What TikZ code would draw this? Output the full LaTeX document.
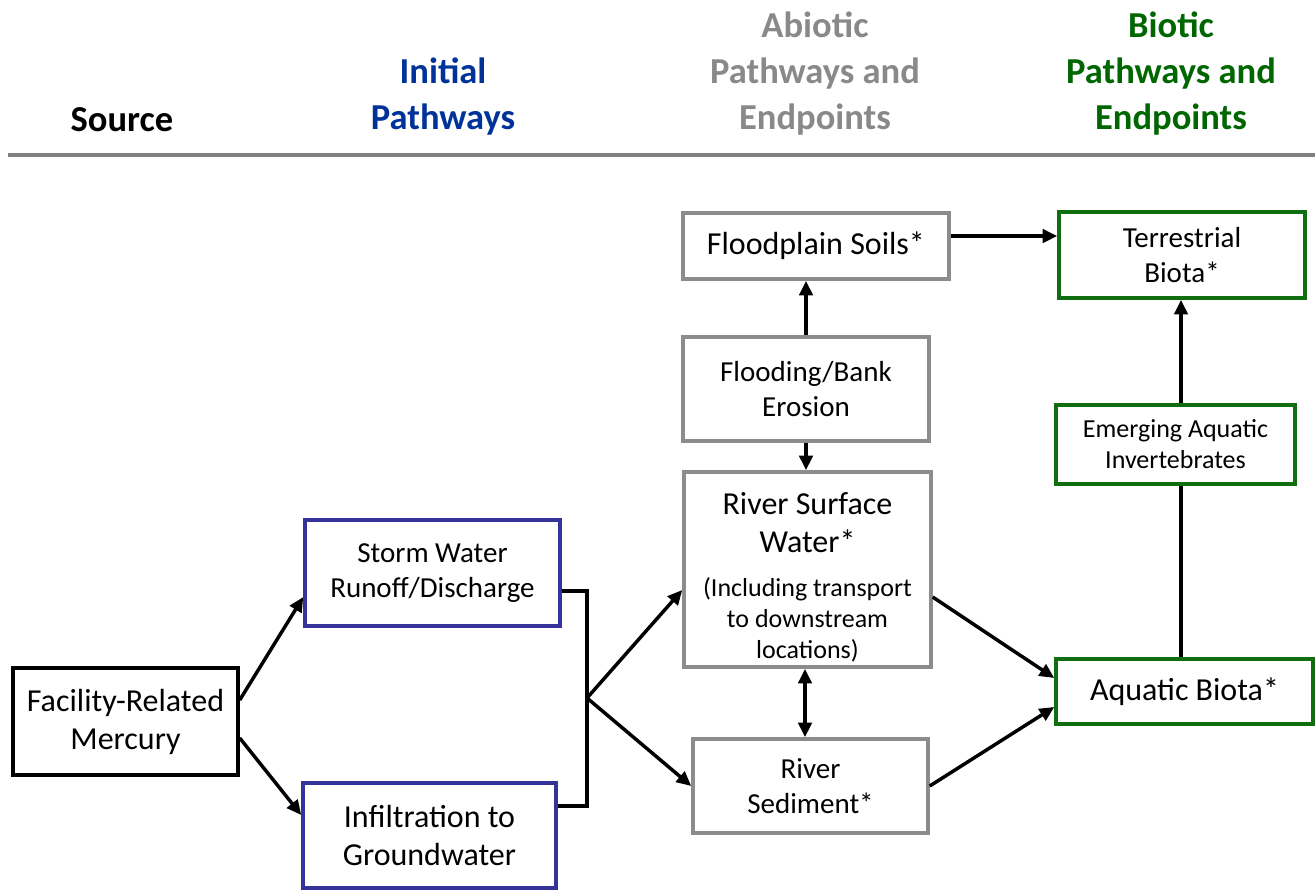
\documentclass[tikz,border=0pt]{standalone}
\usepackage{fontspec}
\setmainfont{Carlito}
\usetikzlibrary{arrows.meta,calc}
\definecolor{hdrblue}{RGB}{0,51,153}
\definecolor{hdrgray}{RGB}{137,137,137}
\definecolor{hdrgreen}{RGB}{0,102,0}
\definecolor{boxblue}{RGB}{51,51,153}
\definecolor{boxgray}{RGB}{140,140,140}
\definecolor{boxgreen}{RGB}{16,110,16}
\definecolor{rulegray}{RGB}{128,128,128}
\tikzset{
  box/.style={draw, line width=2.6pt, fill=white, inner sep=0pt, align=center},
  srcbox/.style={box, draw=black},
  initbox/.style={box, draw=boxblue},
  abiobox/.style={box, draw=boxgray},
  biobox/.style={box, draw=boxgreen},
  bigtxt/.style={font=\fontsize{24}{28.5}\selectfont},
  midtxt/.style={font=\fontsize{21.75}{26.25}\selectfont},
  smalltxt/.style={font=\fontsize{19.5}{23.25}\selectfont},
  hdr/.style={font=\bfseries\fontsize{27.4}{34.5}\selectfont, anchor=base, inner sep=0pt},
  arr/.style={line width=2.6pt, -{Triangle[length=11pt,width=10pt]}},
  dblarr/.style={line width=2.6pt, {Triangle[length=11pt,width=10pt]}-{Triangle[length=11pt,width=10pt]}},
  conn/.style={line width=2.6pt},
}
\begin{document}
\begin{tikzpicture}[x=0.75pt,y=-0.75pt]
\useasboundingbox (0,0) rectangle (1315,890);

% headers
\node[hdr] (hsrc) at (122,131) {Source};
\node[hdr, text=hdrblue] (hinit1) at (443,83) {Initial};
\node[hdr, text=hdrblue] (hinit2) at (443,129) {Pathways};
\node[hdr, text=hdrgray] (habio1) at (815,37) {Abiotic};
\node[hdr, text=hdrgray] (habio2) at (815,83) {Pathways and};
\node[hdr, text=hdrgray] (habio3) at (815,129) {Endpoints};
\node[hdr, text=hdrgreen] (hbio1) at (1171,37) {Biotic};
\node[hdr, text=hdrgreen] (hbio2) at (1171,83) {Pathways and};
\node[hdr, text=hdrgreen] (hbio3) at (1171,129) {Endpoints};
\coordinate (rl) at (8,155);
\coordinate (rr) at (1315,155);
\draw[rulegray, line width=3pt] (rl) -- (rr);

% boxes
\node[srcbox, bigtxt, minimum width=0.75*225pt, minimum height=0.75*107pt] (fac) at (125.5,721.5) {Facility-Related\\Mercury};
\node[initbox, midtxt, minimum width=0.75*255pt, minimum height=0.75*106pt] (storm) at (432.5,573) {Storm Water\\Runoff/Discharge};
\node[initbox, bigtxt, minimum width=0.75*253pt, minimum height=0.75*105pt] (infil) at (429.5,835.5) {Infiltration to\\Groundwater};
\node[abiobox, bigtxt, minimum width=0.75*266pt, minimum height=0.75*66pt] (soils) at (816,246) {Floodplain Soils*};
\node[abiobox, midtxt, minimum width=0.75*246pt, minimum height=0.75*104pt] (bank) at (806,389) {Flooding/Bank\\Erosion};
\node[abiobox, minimum width=0.75*247pt, minimum height=0.75*195pt] (rsw) at (807.5,569.5) {};
\node[bigtxt, anchor=base, inner sep=0pt] (rsw1) at (807.5,514) {River Surface};
\node[bigtxt, anchor=base, inner sep=0pt] (rsw2) at (807.5,552) {Water*};
\node[smalltxt, anchor=base, inner sep=0pt] (rsw3) at (807.5,596) {(Including transport};
\node[smalltxt, anchor=base, inner sep=0pt] (rsw4) at (807.5,627) {to downstream};
\node[smalltxt, anchor=base, inner sep=0pt] (rsw5) at (807.5,658) {locations)};
\node[abiobox, midtxt, minimum width=0.75*235pt, minimum height=0.75*94pt] (sed) at (810.5,786) {River\\Sediment*};
\node[biobox, midtxt, minimum width=0.75*246pt, minimum height=0.75*86pt] (terr) at (1182,255) {Terrestrial\\Biota*};
\node[biobox, smalltxt, minimum width=0.75*239pt, minimum height=0.75*79pt] (emerg) at (1175.5,444.5) {Emerging Aquatic\\Invertebrates};
\node[biobox, bigtxt, minimum width=0.75*257pt, minimum height=0.75*65pt] (aqua) at (1184.5,691.5) {Aquatic Biota*};

% connectors
\draw[arr] ($(fac.east)+(0,-21.5)$) -- ($(storm.west)+(0,24)$);
\draw[arr] ($(fac.east)+(0,16.5)$) -- ($(infil.west)+(0,-20.5)$);
\coordinate (j) at (587,698);
\draw[conn, line join=miter] ($(storm.east)+(0,18)$) -| (j) |- ($(infil.east)+(0,-29.5)$);
\draw[arr] (j) -- ($(rsw.west)+(0,20.5)$);
\draw[arr] (j) -- (sed.west);
\draw[arr] (bank.north) -- (bank.north |- soils.south);
\draw[arr] (bank.south) -- (bank.south |- rsw.north);
\coordinate (dx) at ($(rsw.south)+(-2.5,0)$);
\draw[dblarr] (dx) -- (dx |- sed.north);
\coordinate (se) at ($(soils.east)+(0,-10)$);
\draw[arr] (se) -- (se -| terr.west);
\coordinate (vx) at (1181,0);
\draw[conn] (vx |- aqua.north) -- (vx |- emerg.south);
\draw[arr] (vx |- emerg.north) -- (vx |- terr.south);
\draw[arr] ($(rsw.east)+(0,27.5)$) -- ($(aqua.west)+(0,-13.5)$);
\draw[arr] (sed.east) -- ($(aqua.west)+(0,15.5)$);
\end{tikzpicture}
\end{document}
